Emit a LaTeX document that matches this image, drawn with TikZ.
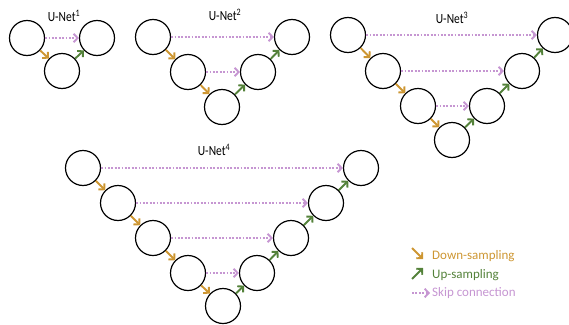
\documentclass[tikz,border=0pt]{standalone}
\usepackage{fontspec}
\setmainfont{Carlito}
\usetikzlibrary{arrows.meta}
\definecolor{downc}{RGB}{205,150,50}
\definecolor{upc}{RGB}{84,130,58}
\definecolor{skipc}{RGB}{198,150,210}

\begin{document}
\begin{tikzpicture}[x=1pt, y=-1pt,
  blk/.style={circle, draw=black, line width=1.2pt, minimum size=35pt, inner sep=0pt},
  down/.style={-{Straight Barb[length=4pt,width=8.5pt]}, draw=downc, line width=1.9pt},
  up/.style={-{Straight Barb[length=4pt,width=8.5pt]}, draw=upc, line width=1.9pt},
  skip/.style={-{Straight Barb[length=4pt,width=8.5pt]}, draw=skipc, line width=1.9pt, dash pattern=on 1.9pt off 1.5pt},
  ttl/.style={font=\fontsize{14}{16}\selectfont, xscale=0.82},
  lgd/.style={anchor=west, inner sep=0pt, font=\fontsize{13}{15}\selectfont}]
\useasboundingbox (0,0) rectangle (569,324);

% U-Net 1
\node[ttl] (t1) at (64,16) {U-Net\textsuperscript{1}};
\node[blk] (a1) at (27,38) {};
\node[blk] (a2) at (62,71) {};
\node[blk] (a3) at (97,38) {};
\draw[down] (a1) -- (a2);
\draw[up] (a2) -- (a3);
\draw[skip] (a1) -- (a3);

% U-Net 2
\node[ttl] (t2) at (225,15) {U-Net\textsuperscript{2}};
\node[blk] (b1) at (153,37) {};
\node[blk] (b2) at (188,72) {};
\node[blk] (b3) at (222,107) {};
\node[blk] (b4) at (258,72) {};
\node[blk] (b5) at (292,37) {};
\draw[down] (b1) -- (b2);
\draw[down] (b2) -- (b3);
\draw[up] (b3) -- (b4);
\draw[up] (b4) -- (b5);
\draw[skip] (b1) -- (b5);
\draw[skip] (b2) -- (b4);

% U-Net 3
\node[ttl] (t3) at (452,18) {U-Net\textsuperscript{3}};
\node[blk] (c1) at (348,35) {};
\node[blk] (c2) at (383,71) {};
\node[blk] (c3) at (418,106) {};
\node[blk] (c4) at (452,140) {};
\node[blk] (c5) at (487,106) {};
\node[blk] (c6) at (522,71) {};
\node[blk] (c7) at (555,35) {};
\draw[down] (c1) -- (c2);
\draw[down] (c2) -- (c3);
\draw[down] (c3) -- (c4);
\draw[up] (c4) -- (c5);
\draw[up] (c5) -- (c6);
\draw[up] (c6) -- (c7);
\draw[skip] (c1) -- (c7);
\draw[skip] (c2) -- (c6);
\draw[skip] (c3) -- (c5);

% U-Net 4
\node[ttl] (t4) at (214,150) {U-Net\textsuperscript{4}};
\node[blk] (d1) at (83,168) {};
\node[blk] (d2) at (118,203) {};
\node[blk] (d3) at (153,238) {};
\node[blk] (d4) at (188,273) {};
\node[blk] (d5) at (223,306) {};
\node[blk] (d6) at (257,273) {};
\node[blk] (d7) at (291,238) {};
\node[blk] (d8) at (326,203) {};
\node[blk] (d9) at (361,168) {};
\draw[down] (d1) -- (d2);
\draw[down] (d2) -- (d3);
\draw[down] (d3) -- (d4);
\draw[down] (d4) -- (d5);
\draw[up] (d5) -- (d6);
\draw[up] (d6) -- (d7);
\draw[up] (d7) -- (d8);
\draw[up] (d8) -- (d9);
\draw[skip] (d1) -- (d9);
\draw[skip] (d2) -- (d8);
\draw[skip] (d3) -- (d7);
\draw[skip] (d4) -- (d6);

% legend
\coordinate (ld0) at (412,248);
\coordinate (ld1) at (423,259);
\coordinate (lu0) at (412,279);
\coordinate (lu1) at (423,268);
\coordinate (ls0) at (412,293);
\coordinate (ls1) at (430,293);
\draw[down] (ld0) -- (ld1);
\draw[up] (lu0) -- (lu1);
\draw[skip] (ls0) -- (ls1);
\node[lgd, text=downc] (lt1) at (432,256) {Down-sampling};
\node[lgd, text=upc] (lt2) at (432,275) {Up-sampling};
\node[lgd, text=skipc] (lt3) at (432,293) {Skip connection};

\end{tikzpicture}
\end{document}
